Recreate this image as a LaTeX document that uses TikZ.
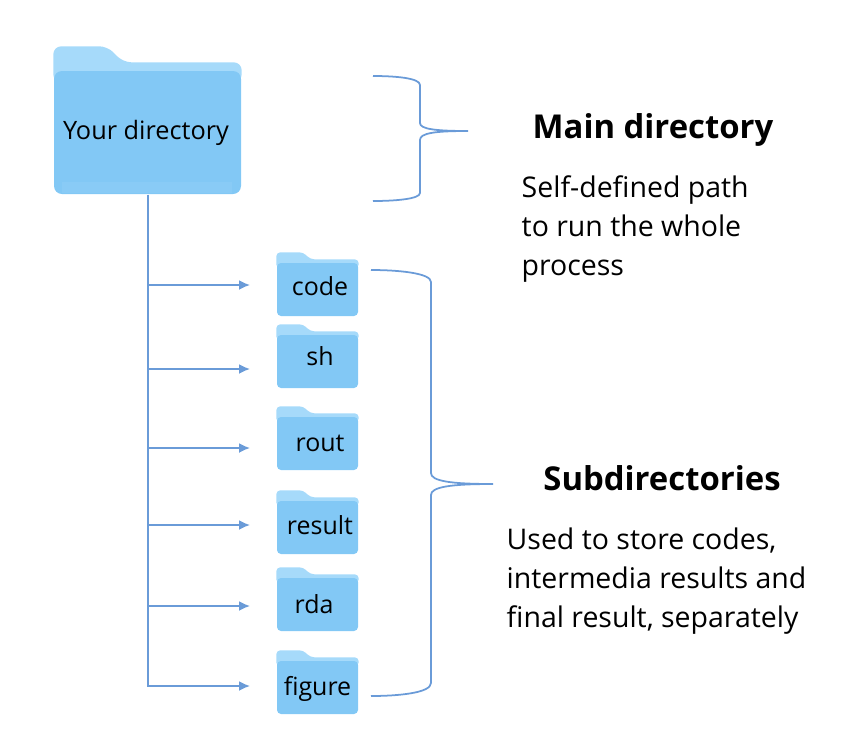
\documentclass[tikz,border=0pt]{standalone}
\usepackage{fontspec}
\setmainfont{Open Sans}
\usetikzlibrary{arrows.meta, positioning, calc, backgrounds}

\definecolor{folderBlue}{HTML}{82C8F5}
\definecolor{tabBlue}{HTML}{A6DAFA}
\definecolor{lineBlue}{HTML}{6A9BD8}

\begin{document}
\begin{tikzpicture}[
    subFolder/.style={rectangle, fill=folderBlue, rounded corners=0.4mm, inner sep=0pt, minimum width=0.81cm, minimum height=0.53cm, text height=1.5ex, text depth=0.45ex, font=\fontsize{7.1pt}{9pt}\selectfont},
    mainFolder/.style={rectangle, fill=folderBlue, rounded corners=0.8mm, inner sep=0pt, minimum width=1.87cm, minimum height=1.23cm, font=\fontsize{7.2pt}{9pt}\selectfont},
    tabShape/.style={fill=tabBlue, draw=none},
    branchLine/.style={-{Latex[length=1.1mm, width=1mm]}, lineBlue, line width=0.5pt},
    braceLine/.style={lineBlue, line width=0.5pt},
    headLabel/.style={font=\fontsize{9.35pt}{11pt}\selectfont\bfseries, inner sep=0pt},
    noteLabel/.style={font=\fontsize{8.1pt}{11pt}\selectfont, align=left, inner sep=0pt}
]
    \useasboundingbox (0,0) rectangle (8.68,7.52);

    % --- MAIN FOLDER ---
    \node[mainFolder] (main) at (1.475,6.195) {\hspace{-0.03cm}\raisebox{0.05cm}{Your directory}};
    \fill[folderBlue!94!white] (0.62,5.59) rectangle (2.32,5.7);
    \begin{scope}[on background layer]
        \fill[tabShape, rounded corners=0.8mm] ($(main.north west)+(0,-0.12)$) -- ++(0,0.36) -- ++(0.54,0) -- ++(0.16,-0.16) -- ($(main.north east)+(0,0.08)$) -- ++(0,-0.2) -- cycle;
    \end{scope}

    % --- SUB FOLDERS ---
    \foreach \name/\ypos/\dx/\dy in {code/4.625/0.05/0.04, sh/3.905/0.05/0.06, rout/3.085/0.05/0.02, result/2.245/0.05/0.03, rda/1.475/-0.07/0.01, figure/0.645/0/0.02} {
        \node[subFolder] (\name) at (3.175,\ypos) {\hspace{\dx cm}\raisebox{\dy cm}{\name}};
        \begin{scope}[on background layer]
            \fill[tabShape, rounded corners=0.4mm] ($(\name.north west)+(0,-0.06)$) -- ++(0,0.16) -- ++(0.27,0) -- ++(0.07,-0.07) -- ($(\name.north east)+(0,0.03)$) -- ++(0,-0.09) -- cycle;
        \end{scope}
    }

    % --- TRUNK AND BRANCHES ---
    \coordinate (trunkTop) at ($(main.south)+(0.008,0)$);
    \coordinate (codeIn) at (2.5,4.67);
    \coordinate (shIn) at (2.5,3.83);
    \coordinate (routIn) at (2.5,3.04);
    \coordinate (resultIn) at (2.5,2.27);
    \coordinate (rdaIn) at (2.5,1.46);
    \coordinate (figureIn) at (2.5,0.66);
    \draw[branchLine] (trunkTop) |- (figureIn);
    \foreach \name in {code,sh,rout,result,rda}
        \draw[branchLine] (trunkTop |- \name In) -- (\name In);

    % --- BRACES ---
    \coordinate (mainTip) at (4.68,6.21);
    \draw[braceLine] (3.73,6.76) .. controls (3.95,6.76) and (4.2,6.74) .. (4.2,6.67) -- (4.2,6.29) .. controls (4.2,6.23) and (4.35,6.21) .. (mainTip) .. controls (4.35,6.21) and (4.2,6.19) .. (4.2,6.12) -- (4.2,5.59) .. controls (4.2,5.53) and (3.95,5.51) .. (3.73,5.51);
    \coordinate (subTip) at (4.93,2.68);
    \draw[braceLine] (3.71,4.82) .. controls (3.98,4.82) and (4.31,4.79) .. (4.31,4.7) -- (4.31,2.79) .. controls (4.31,2.71) and (4.5,2.68) .. (subTip) .. controls (4.5,2.68) and (4.31,2.65) .. (4.31,2.57) -- (4.31,0.69) .. controls (4.31,0.59) and (3.98,0.56) .. (3.71,0.56);

    % --- LABELS ---
    \node[headLabel, anchor=base] (mainHead) at (6.53,6.14) {Main directory};
    \node[noteLabel, anchor=base west] (mainNote) at (5.21,4.77) {Self-defined path\\to run the whole\\process};
    \node[headLabel, anchor=base] (subHead) at (6.62,2.62) {Subdirectories};
    \node[noteLabel, anchor=base west] (subNote) at (5.06,1.25) {Used to store codes,\\intermedia results and\\final result, separately};
\end{tikzpicture}
\end{document}
